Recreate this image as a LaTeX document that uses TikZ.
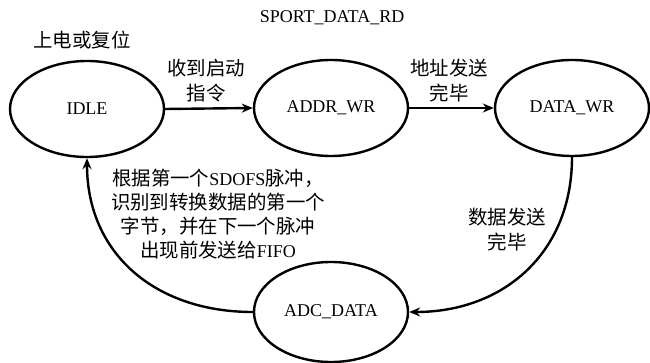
\documentclass[tikz,border=0pt]{standalone}
\usepackage{fontspec}
\setmainfont{Liberation Serif}
\newfontfamily\cjk[Scale=1.08]{Noto Sans CJK SC}
\usetikzlibrary{shapes.geometric,arrows.meta}
\newcommand\zh[1]{{\cjk #1}}
\begin{document}
\begin{tikzpicture}[x=1pt,y=-1pt,
  state/.style={ellipse,draw,line width=2.4pt,minimum width=154pt,minimum height=96pt,inner sep=0pt,font=\fontsize{18}{22}\selectfont},
  lbl/.style={align=center,inner sep=0pt,font=\fontsize{18}{25}\selectfont},
  conn/.style={line width=2.4pt,-{Stealth[length=11pt,width=9pt]}}]
\useasboundingbox (0,0) rectangle (650,363);
\node (title) at (332,18) {\fontsize{18}{22}\selectfont SPORT\_DATA\_RD};
\node[state] (idle) at (87,109) {IDLE};
\node[state] (addr) at (331,108) {ADDR\_WR};
\node[state] (data) at (572,108) {DATA\_WR};
\node[state,minimum height=100pt] (adc) at (331,312) {ADC\_DATA};
\node[lbl] (reset) at (82,40) {\zh{上电或复位}};
\node[lbl] (l1) at (206,81) {\zh{收到启动}\\\zh{指令}};
\node[lbl] (l2) at (449,81) {\zh{地址发送}\\\zh{完毕}};
\node[lbl] (l3) at (507,230) {\zh{数据发送}\\\zh{完毕}};
\node[lbl,font=\fontsize{18}{24}\selectfont] (l4) at (218,214) {\zh{根据第一个}SDOFS\zh{脉冲，}\\\zh{识别到转换数据的第一个}\\\zh{字节，并在下一个脉冲}\\\zh{出现前发送给}FIFO};
\draw[conn] (idle.east) -- (addr.west);
\draw[conn] (addr.east) -- (data.west);
\draw[conn] (data.south) .. controls +(0,95) and +(95,0) .. (adc.east);
\draw[conn] (adc.west) .. controls +(-98,0) and +(0,95) .. (idle.south);
\end{tikzpicture}
\end{document}
